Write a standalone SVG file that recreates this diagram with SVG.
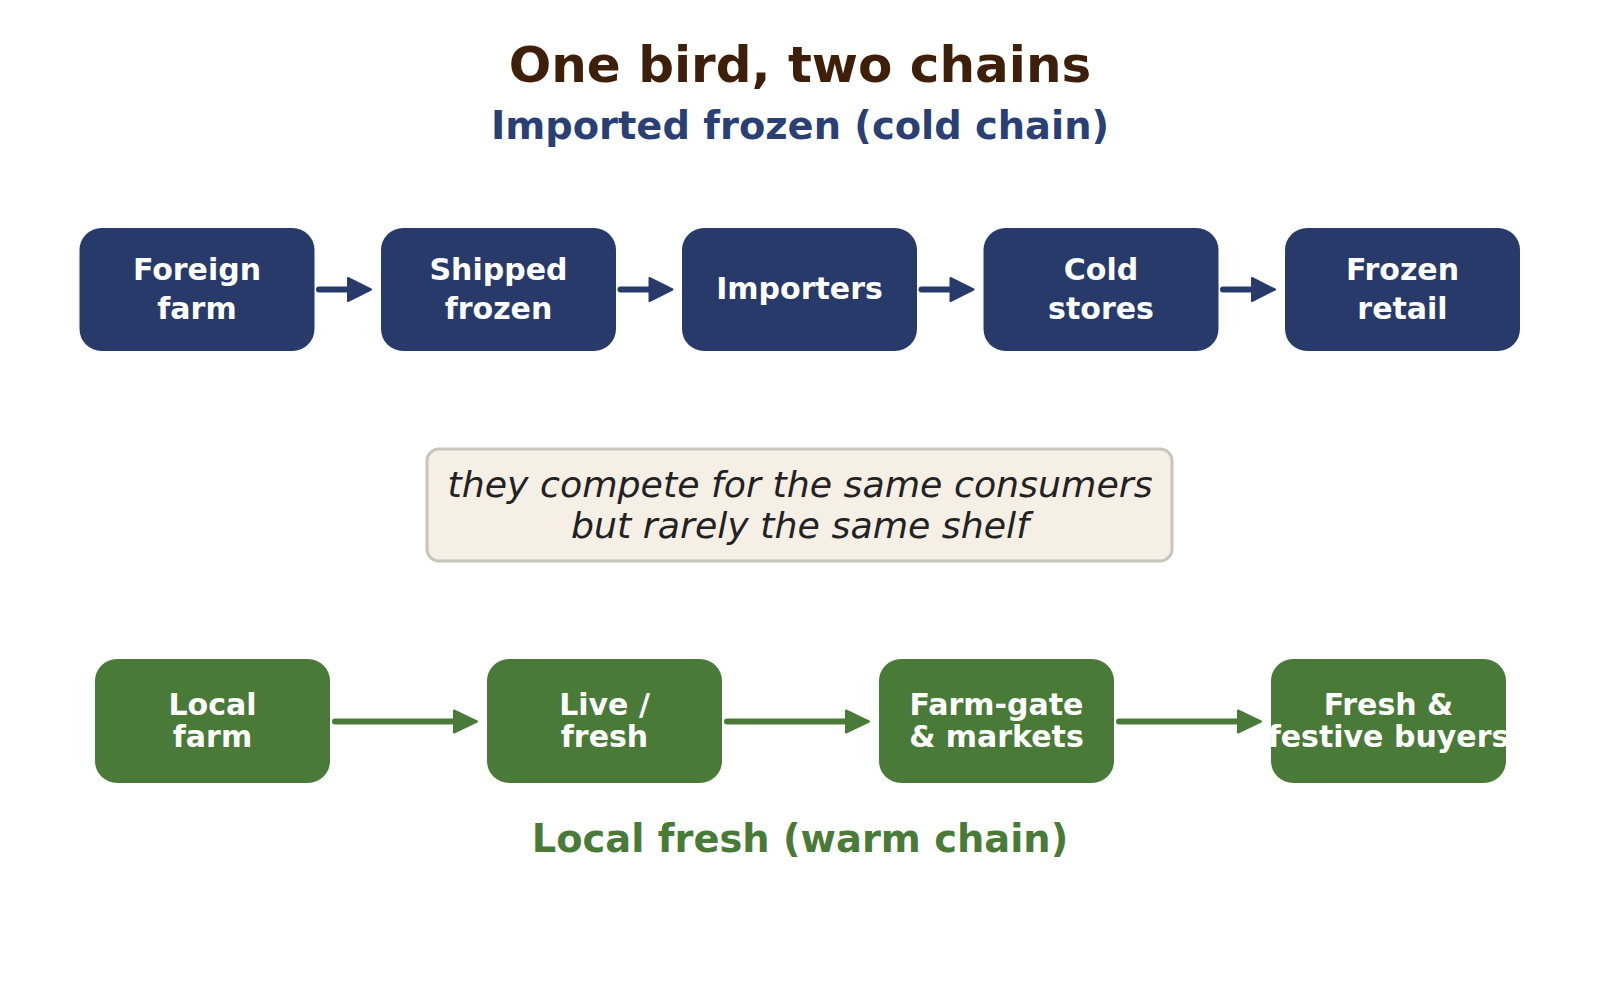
<svg xmlns="http://www.w3.org/2000/svg" width="1600" height="993" viewBox="0 0 1600 993">
<style>
.title{font-family:"DejaVu Sans",sans-serif;font-weight:bold;font-size:50px;fill:#3d1f0a;text-anchor:middle}
.sub{font-family:"DejaVu Sans",sans-serif;font-weight:bold;font-size:38.4px;text-anchor:middle}
.cold rect{fill:#273a69}
.warm rect{fill:#4a7a38}
.lbl{font-family:"DejaVu Sans",sans-serif;font-weight:bold;font-size:30px;fill:#ffffff;text-anchor:middle;dominant-baseline:central}
.note{font-family:"DejaVu Sans",sans-serif;font-style:italic;font-size:36.3px;fill:#222222;text-anchor:middle;dominant-baseline:central}
.ac{stroke:#273a69;stroke-width:6;fill:none;stroke-linecap:round}
.aw{stroke:#4a7a38;stroke-width:6;fill:none;stroke-linecap:round}
</style>
<defs>
<marker id="hc" markerUnits="userSpaceOnUse" markerWidth="30" markerHeight="30" refX="5" refY="15" orient="auto"><path d="M2,3.5 L25,15 L2,26.5 Z" fill="#273a69" stroke="#273a69" stroke-width="2" stroke-linejoin="round"/></marker>
<marker id="hw" markerUnits="userSpaceOnUse" markerWidth="30" markerHeight="30" refX="5" refY="15" orient="auto"><path d="M2,4 L25,15 L2,26 Z" fill="#4a7a38" stroke="#4a7a38" stroke-width="2" stroke-linejoin="round"/></marker>
</defs>
<rect width="1600" height="993" fill="#ffffff"/>
<text class="title" x="800" y="82">One bird, two chains</text>
<text class="sub" x="800" y="139" fill="#2a3f73">Imported frozen (cold chain)</text>
<text class="sub" x="800" y="852" fill="#4a7a38">Local fresh (warm chain)</text>

<g id="connectors">
<line class="ac" x1="319" y1="289.5" x2="351" y2="289.5" marker-end="url(#hc)"/>
<line class="ac" x1="620.5" y1="289.5" x2="652.5" y2="289.5" marker-end="url(#hc)"/>
<line class="ac" x1="921.5" y1="289.5" x2="953.5" y2="289.5" marker-end="url(#hc)"/>
<line class="ac" x1="1223" y1="289.5" x2="1255" y2="289.5" marker-end="url(#hc)"/>
<line class="aw" x1="335" y1="721.5" x2="457" y2="721.5" marker-end="url(#hw)"/>
<line class="aw" x1="727" y1="721.5" x2="849" y2="721.5" marker-end="url(#hw)"/>
<line class="aw" x1="1119" y1="721.5" x2="1241" y2="721.5" marker-end="url(#hw)"/>
</g>

<g id="foreign-farm" class="cold"><rect x="79.5" y="228" width="235" height="123" rx="22"/><text class="lbl" x="197" y="269">Foreign</text><text class="lbl" x="197" y="308">farm</text></g>
<g id="shipped-frozen" class="cold"><rect x="381" y="228" width="235" height="123" rx="22"/><text class="lbl" x="498.5" y="269">Shipped</text><text class="lbl" x="498.5" y="308">frozen</text></g>
<g id="importers" class="cold"><rect x="682" y="228" width="235" height="123" rx="22"/><text class="lbl" x="799.5" y="288">Importers</text></g>
<g id="cold-stores" class="cold"><rect x="983.5" y="228" width="235" height="123" rx="22"/><text class="lbl" x="1101" y="269">Cold</text><text class="lbl" x="1101" y="308">stores</text></g>
<g id="frozen-retail" class="cold"><rect x="1285" y="228" width="235" height="123" rx="22"/><text class="lbl" x="1402.5" y="269">Frozen</text><text class="lbl" x="1402.5" y="308">retail</text></g>

<g id="note"><rect x="427" y="449" width="745" height="112" rx="12" fill="#f5efe6" stroke="#c8c4be" stroke-width="3"/><text class="note" x="800" y="484">they compete for the same consumers</text><text class="note" x="800" y="525">but rarely the same shelf</text></g>

<g id="local-farm" class="warm"><rect x="95" y="659" width="235" height="124" rx="22"/><text class="lbl" x="212.5" y="704.5">Local</text><text class="lbl" x="212.5" y="736">farm</text></g>
<g id="live-fresh" class="warm"><rect x="487" y="659" width="235" height="124" rx="22"/><text class="lbl" x="604.5" y="704.5">Live /</text><text class="lbl" x="604.5" y="736">fresh</text></g>
<g id="farm-gate" class="warm"><rect x="879" y="659" width="235" height="124" rx="22"/><text class="lbl" x="996.5" y="704.5">Farm-gate</text><text class="lbl" x="996.5" y="736">&amp; markets</text></g>
<g id="fresh-festive" class="warm"><rect x="1271" y="659" width="235" height="124" rx="22"/><text class="lbl" x="1388.5" y="704.5">Fresh &amp;</text><text class="lbl" x="1388.5" y="736">festive buyers</text></g>
</svg>
